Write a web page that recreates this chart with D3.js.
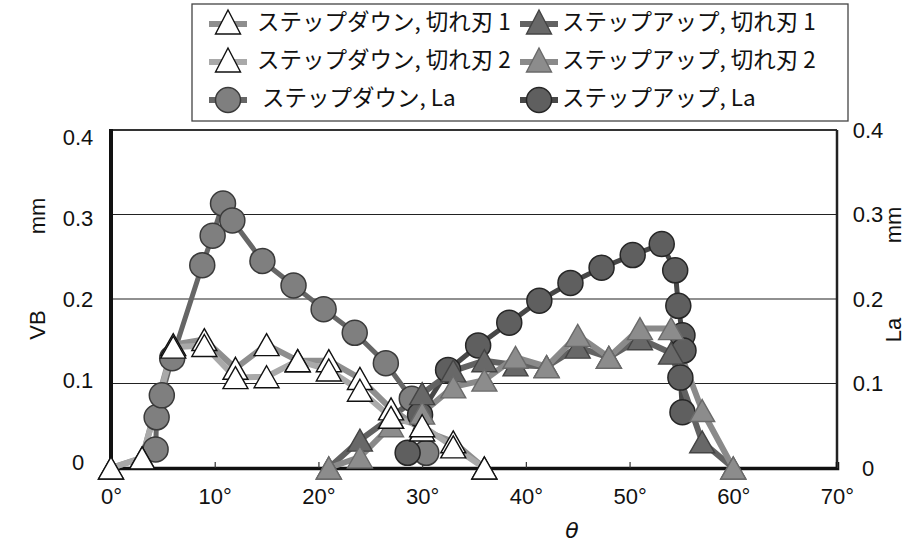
<!DOCTYPE html>
<html>
<head>
<meta charset="utf-8">
<script src="https://cdn.jsdelivr.net/npm/d3@7"></script>
<style>
  html, body { margin: 0; padding: 0; background: #fff; }
  svg { display: block; }
  .num { font-family: "Liberation Sans", Arial, sans-serif; font-size: 22px; fill: #111; }
  .jp { font-family: "Noto Sans CJK JP", sans-serif; font-size: 22.5px; fill: #111; }
</style>
</head>
<body>
<svg id="chart" width="924" height="548"></svg>
<script>
// θ (deg) for the VB series, step-down and step-up
const thetaDown = [0, 3, 6, 9, 12, 15, 18, 21, 24, 27, 30, 33, 36];
const vbDown1   = [0, 0.012, 0.146, 0.152, 0.118, 0.146, 0.127, 0.127, 0.106, 0.070, 0.045, 0.031, 0];
const vbDown2   = [0, 0.012, 0.143, 0.145, 0.107, 0.108, 0.127, 0.116, 0.092, 0.060, 0.050, 0.025, 0];

const thetaUp = [21, 24, 27, 30, 33, 36, 39, 42, 45, 48, 51, 54, 57, 60];
const vbUp1   = [0, 0.033, 0.060, 0.088, 0.115, 0.127, 0.122, 0.120, 0.143, 0.131, 0.153, 0.136, 0.031, 0];
const vbUp2   = [0, 0.013, 0.050, 0.065, 0.096, 0.104, 0.131, 0.120, 0.157, 0.131, 0.165, 0.165, 0.068, 0];

// La (right axis)
const laDownTheta = [4.3, 4.4, 4.9, 5.9, 8.8, 9.8, 10.8, 11.7, 14.6, 17.6, 20.5, 23.5, 26.5, 29.0, 30.4];
const laDownVal   = [0.022, 0.060, 0.086, 0.130, 0.240, 0.275, 0.313, 0.293, 0.245, 0.216, 0.188, 0.160, 0.124, 0.082, 0.018];
const laUpTheta = [28.6, 29.8, 32.5, 35.4, 38.4, 41.3, 44.3, 47.3, 50.3, 53.1, 54.4, 54.7, 55.1, 55.2, 54.9, 55.1];
const laUpVal   = [0.018, 0.063, 0.116, 0.145, 0.172, 0.198, 0.219, 0.237, 0.252, 0.265, 0.234, 0.192, 0.157, 0.139, 0.107, 0.066];

const xTicks = [0, 10, 20, 30, 40, 50, 60, 70];
const yTicks = [0, 0.1, 0.2, 0.3, 0.4];

const legendLabels = [
  "ステップダウン, 切れ刃 1", "ステップダウン, 切れ刃 2", " ステップダウン, La",
  "ステップアップ, 切れ刃 1", "ステップアップ, 切れ刃 2", "ステップアップ, La"
];

const svg = d3.select("#chart");
const plotL = 111, plotR = 837, plotT = 130, plotB = 468;

const x = d3.scaleLinear().domain([0, 70]).range([plotL, plotR]);
const yL = d3.scaleLinear().domain([0, 0.4]).range([plotB, plotT]);
const yR = d3.scaleLinear().domain([0, 0.4]).range([plotB, plotT]);
const yLabelL = d3.scaleLinear().domain([0, 0.4]).range([462, 137]);

const fmt = v => v === 0 ? "0" : d3.format(".1f")(v);

// gridlines
svg.append("g").selectAll("line").data(yTicks.filter(v => v > 0 && v < 0.4)).join("line")
  .attr("x1", plotL).attr("x2", plotR)
  .attr("y1", d => yL(d)).attr("y2", d => yL(d))
  .attr("stroke", "#222").attr("stroke-width", 1.2);

// frame: top and right
svg.append("line").attr("x1", plotL).attr("x2", plotR).attr("y1", plotT).attr("y2", plotT)
  .attr("stroke", "#333").attr("stroke-width", 2);
svg.append("line").attr("x1", plotR).attr("x2", plotR).attr("y1", plotT).attr("y2", plotB)
  .attr("stroke", "#222").attr("stroke-width", 2.5);

// x axis
const gx = svg.append("g").attr("transform", `translate(0,${plotB})`)
  .call(d3.axisBottom(x).tickValues(xTicks).tickSize(-6).tickPadding(20).tickFormat(d => d + "°"));
gx.select(".domain").attr("stroke", "#111").attr("stroke-width", 3.5);
gx.selectAll(".tick line").attr("stroke", "#333").attr("stroke-width", 1.2);
gx.selectAll("text").attr("class", "num").attr("fill", null).attr("font-size", null).attr("font-family", null);

// left axis
const gl = svg.append("g").attr("transform", `translate(${plotL},0)`)
  .call(d3.axisLeft(yLabelL).tickValues(yTicks).tickSize(0).tickFormat(fmt));
gl.select(".domain").remove();
gl.selectAll("text").attr("class", "num").attr("fill", null).attr("font-size", null)
  .attr("font-family", null).attr("text-anchor", "middle").attr("x", -33);
svg.append("line").attr("x1", plotL).attr("x2", plotL).attr("y1", plotT - 1).attr("y2", plotB + 1)
  .attr("stroke", "#111").attr("stroke-width", 4);

// right axis
const gr = svg.append("g").attr("transform", `translate(${plotR},0)`)
  .call(d3.axisRight(yR).tickValues(yTicks).tickSize(0).tickFormat(fmt));
gr.select(".domain").remove();
gr.selectAll("text").attr("class", "num").attr("fill", null).attr("font-size", null)
  .attr("font-family", null).attr("text-anchor", "middle").attr("x", 31);

// axis titles
function vtext(tx, ty, s, cls) {
  svg.append("text").attr("class", cls).attr("text-anchor", "middle")
    .attr("transform", `translate(${tx},${ty}) rotate(-90)`).attr("dy", "0.35em").text(s);
}
vtext(37, 325, "VB", "num");
vtext(37, 216, "mm", "num");
vtext(893, 330, "La", "num");
vtext(893, 225, "mm", "num");
svg.append("text").attr("class", "num").attr("x", 572).attr("y", 538)
  .attr("text-anchor", "middle").style("font-style", "italic").style("font-family", "DejaVu Sans")
  .attr("font-size", 21).text("θ");

// series styles
const triPath = (w, h) => `M0,${-h / 2}L${w / 2},${h / 2}L${-w / 2},${h / 2}Z`;
const styles = {
  down1: { line: "#8e8e8e", fill: "#ffffff", stroke: "#111", shape: "tri" },
  down2: { line: "#a9a9a9", fill: "#ffffff", stroke: "#111", shape: "tri" },
  downLa: { line: "#666", fill: "#7f7f7f", stroke: "#3a3a3a", shape: "circle" },
  up1: { line: "#626262", fill: "#686868", stroke: "#444", shape: "tri" },
  up2: { line: "#8a8a8a", fill: "#8c8c8c", stroke: "#6a6a6a", shape: "tri" },
  upLa: { line: "#474747", fill: "#5f5f5f", stroke: "#262626", shape: "circle" }
};

const mk = (xs, ys) => xs.map((t, i) => [t, ys[i]]);
const series = {
  down1: { pts: mk(thetaDown, vbDown1), y: yL },
  down2: { pts: mk(thetaDown, vbDown2), y: yL },
  downLa: { pts: mk(laDownTheta, laDownVal), y: yR },
  up1: { pts: mk(thetaUp, vbUp1), y: yL },
  up2: { pts: mk(thetaUp, vbUp2), y: yL },
  upLa: { pts: mk(laUpTheta, laUpVal), y: yR }
};

const order = ["downLa", "upLa", "up1", "up2", "down1", "down2"];
const gLines = svg.append("g");
const gMarks = svg.append("g");

order.forEach(k => {
  const s = series[k], st = styles[k];
  const line = d3.line().x(d => x(d[0])).y(d => s.y(d[1]));
  gLines.append("path").attr("d", line(s.pts)).attr("fill", "none")
    .attr("stroke", st.line).attr("stroke-width", st.shape === "circle" ? 5 : 6)
    .attr("stroke-linejoin", "round");
});

order.forEach(k => {
  const s = series[k], st = styles[k];
  const g = gMarks.append("g");
  if (st.shape === "circle") {
    g.selectAll("circle").data(s.pts).join("circle")
      .attr("cx", d => x(d[0])).attr("cy", d => s.y(d[1])).attr("r", 12.5)
      .attr("fill", st.fill).attr("stroke", st.stroke).attr("stroke-width", 1.5);
  } else {
    g.selectAll("path").data(s.pts).join("path")
      .attr("transform", d => `translate(${x(d[0])},${s.y(d[1])})`)
      .attr("d", triPath(25, 22))
      .attr("fill", st.fill).attr("stroke", st.stroke).attr("stroke-width", 1.4)
      .attr("stroke-linejoin", "miter");
  }
});

// legend
const lg = svg.append("g");
lg.append("rect").attr("x", 192).attr("y", 4).attr("width", 656).attr("height", 117)
  .attr("fill", "#fff").attr("stroke", "#444").attr("stroke-width", 1.3);
const legendKeys = ["down1", "down2", "downLa", "up1", "up2", "upLa"];
const rowsY = [22, 60, 98];
const colSym = [228, 539];
const colText = [257, 562];
legendKeys.forEach((k, i) => {
  const col = Math.floor(i / 3), row = i % 3, st = styles[k];
  const cx = colSym[col], cy = rowsY[row];
  lg.append("line").attr("x1", cx - 19).attr("x2", cx + 19).attr("y1", cy + 2).attr("y2", cy + 2)
    .attr("stroke", st.line).attr("stroke-width", 6);
  if (st.shape === "circle") {
    lg.append("circle").attr("cx", cx).attr("cy", cy + 2).attr("r", 12.5)
      .attr("fill", st.fill).attr("stroke", st.stroke).attr("stroke-width", 1.5);
  } else {
    lg.append("path").attr("transform", `translate(${cx},${cy})`).attr("d", triPath(25, 24))
      .attr("fill", st.fill).attr("stroke", st.stroke).attr("stroke-width", 1.4);
  }
  lg.append("text").attr("class", "jp").attr("x", colText[col]).attr("y", cy).attr("dy", "0.36em")
    .style("white-space", "pre")
    .text(legendLabels[i]);
});
</script>
</body>
</html>
